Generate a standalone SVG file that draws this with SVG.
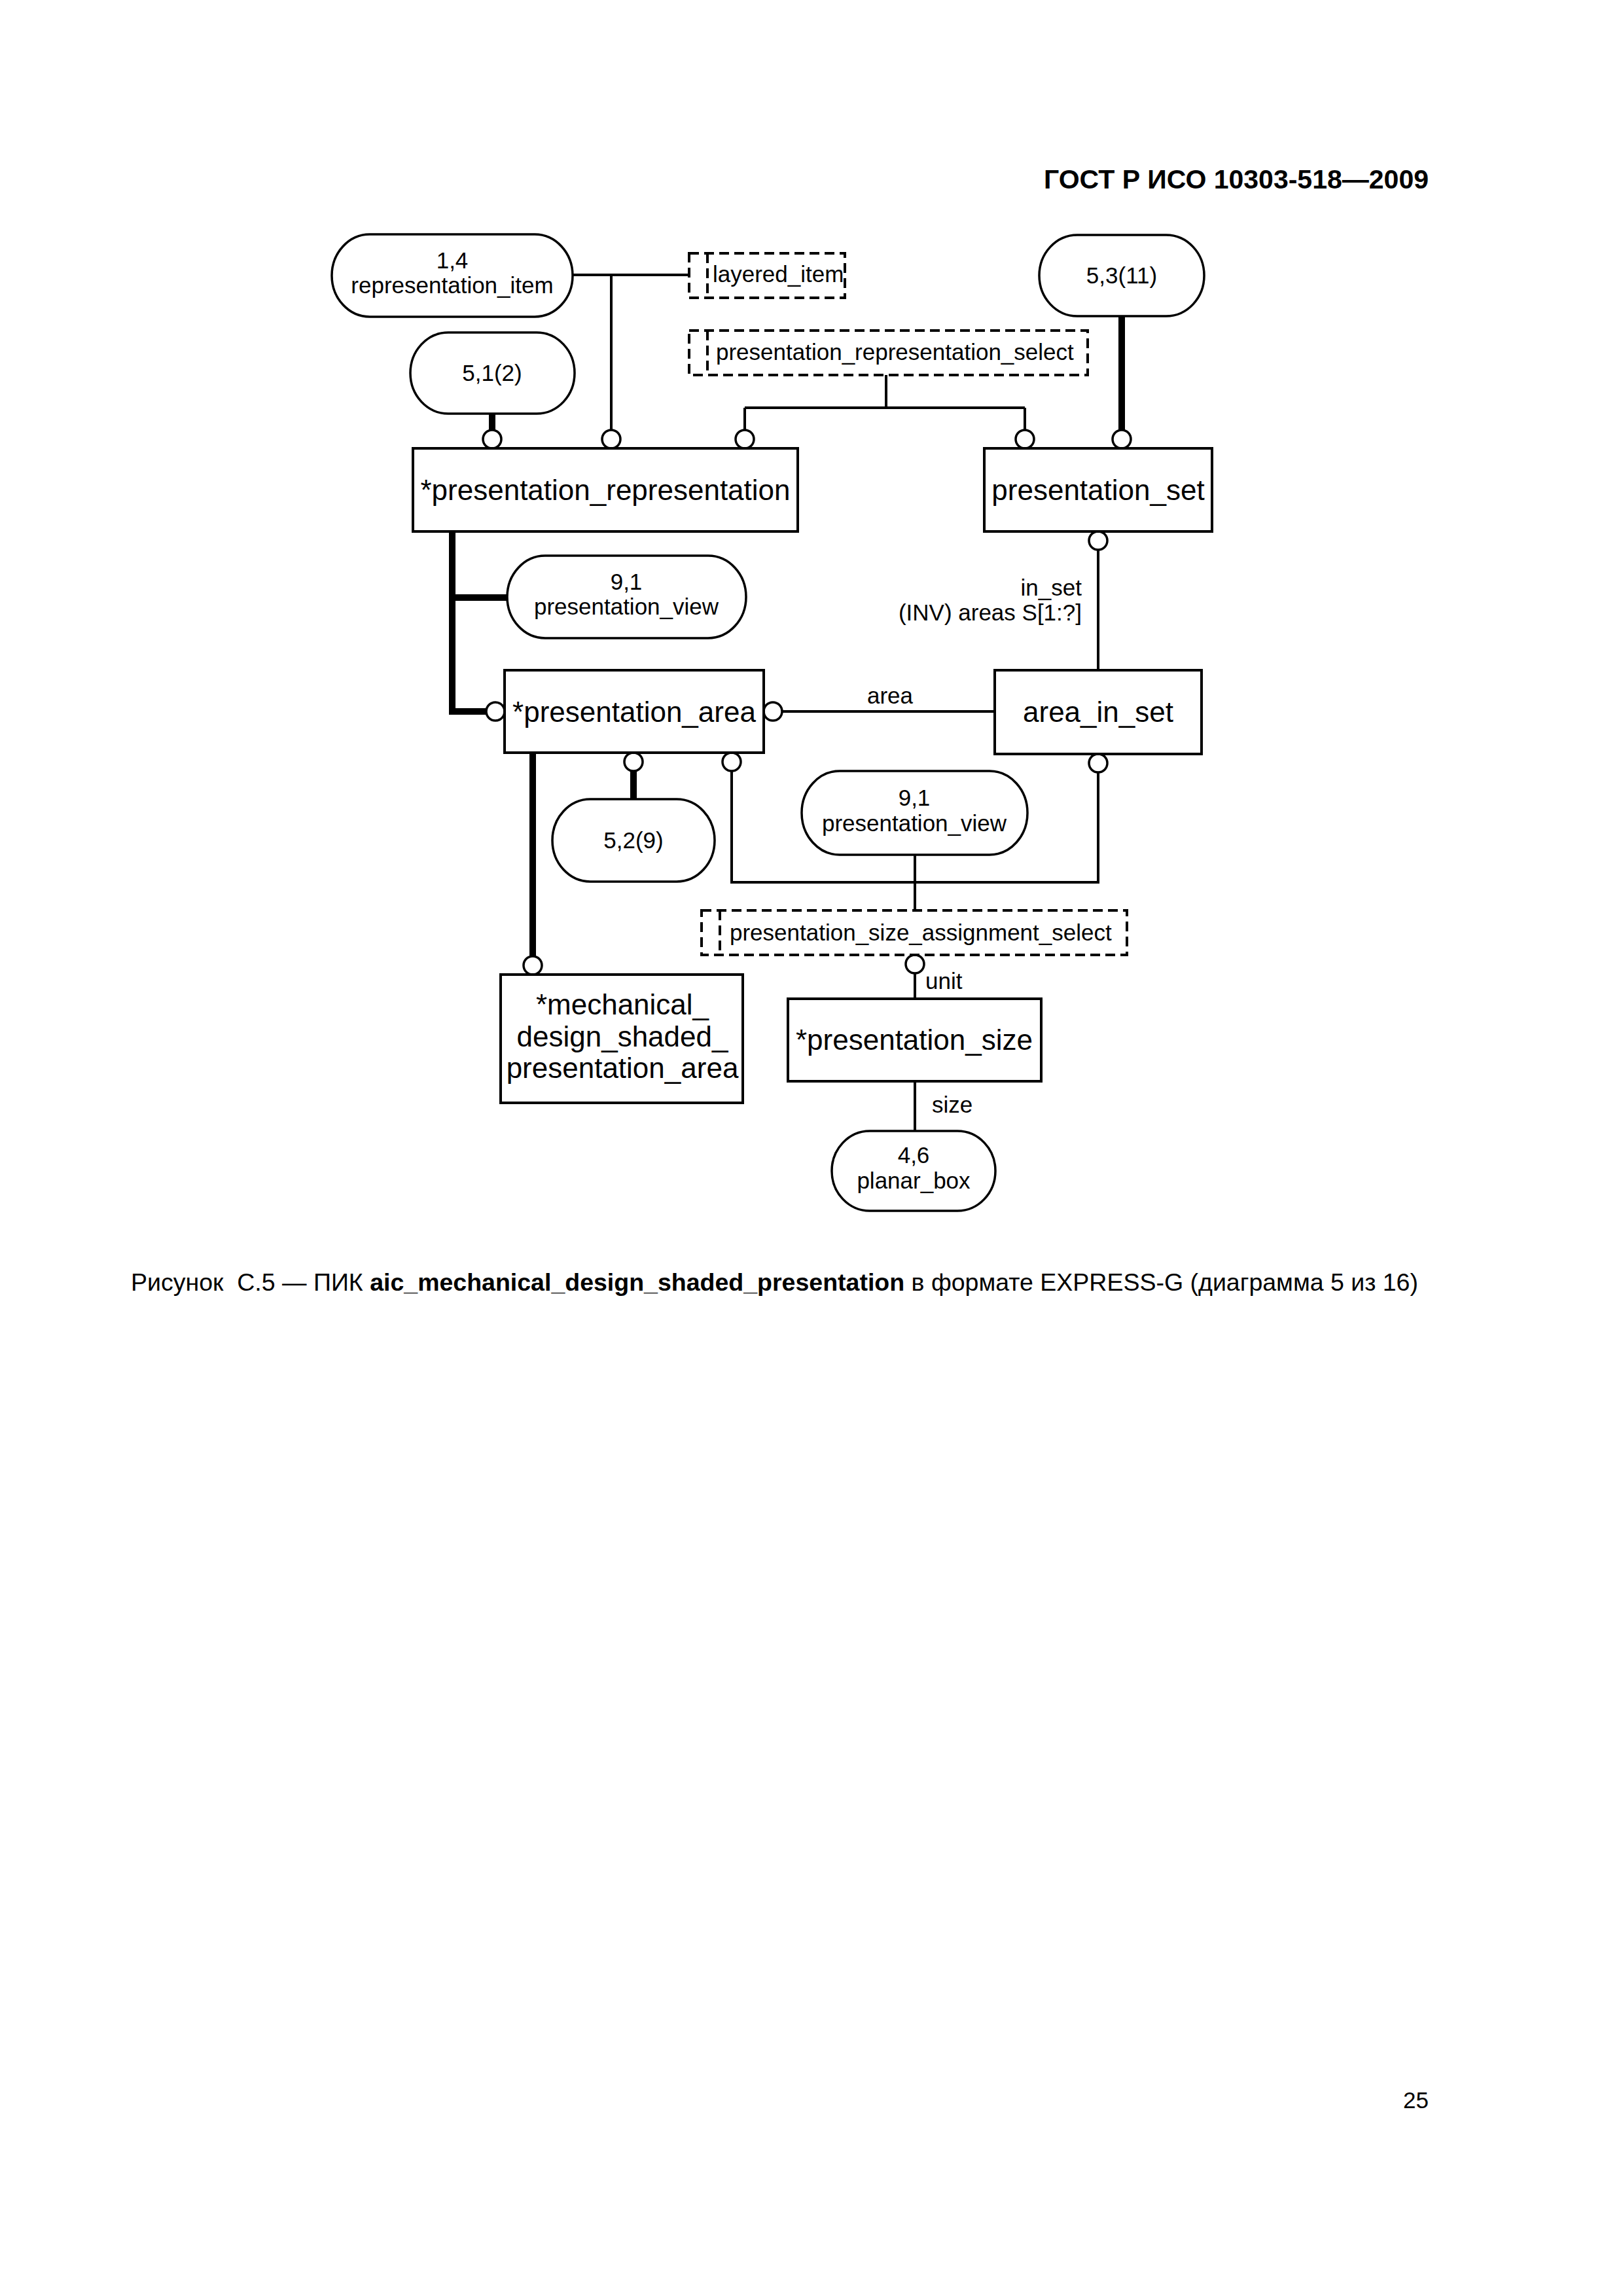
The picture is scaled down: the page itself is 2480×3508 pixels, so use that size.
<svg xmlns="http://www.w3.org/2000/svg" width="2480" height="3508" viewBox="0 0 2480 3508">
<style>
  .bg{fill:#fff}
  .ent{fill:#fff;stroke:#000;stroke-width:4}
  .ref{fill:#fff;stroke:#000;stroke-width:3.5}
  .sel{fill:#fff;stroke:#000;stroke-width:4;stroke-dasharray:15 8}
  .seli{fill:none;stroke:#000;stroke-width:4;stroke-dasharray:15 8}
  .thin{fill:none;stroke:#000;stroke-width:4}
  .thick{fill:none;stroke:#000;stroke-width:10}
  .end{fill:#fff;stroke:#000;stroke-width:3.5}
  .t44{font-family:"Liberation Sans",Arial,sans-serif;font-size:44px;fill:#000}
  .t35{font-family:"Liberation Sans",Arial,sans-serif;font-size:35px;fill:#000}
  .mid{text-anchor:middle}
  .endA{text-anchor:end}
  .hdr{font-family:"Liberation Sans",Arial,sans-serif;font-size:41px;font-weight:bold;fill:#000;text-anchor:end}
  .cap{font-family:"Liberation Sans",Arial,"Noto Sans",sans-serif;font-size:37.5px;fill:#000}
</style>
<rect class="bg" x="0" y="0" width="2480" height="3508"/>

<text class="hdr" x="2183" y="288">ГОСТ Р ИСО 10303-518—2009</text>

<g id="connectors">
  <path class="thin" d="M875 420 H1053"/>
  <path class="thin" d="M934 420 V657"/>
  <path class="thin" d="M1354 573 V623 M1138 623 H1566 M1138 623 V657 M1566 623 V657"/>
  <path class="thin" d="M1678 840 V1024"/>
  <path class="thin" d="M1195 1087 H1520"/>
  <path class="thin" d="M1118 1178 V1348 H1678 V1180"/>
  <path class="thin" d="M1398 1306 V1391"/>
  <path class="thin" d="M1398 1487 V1526"/>
  <path class="thin" d="M1398 1652 V1728"/>
  <path class="thick" d="M752 632 V657"/>
  <path class="thick" d="M1714 483 V657"/>
  <path class="thick" d="M691 812 V1087 H743"/>
  <path class="thick" d="M691 913 H775"/>
  <path class="thick" d="M814 1150 V1461"/>
  <path class="thick" d="M968 1178 V1221"/>
  <circle class="end" cx="752" cy="671" r="14"/>
  <circle class="end" cx="934" cy="671" r="14"/>
  <circle class="end" cx="1138" cy="671" r="14"/>
  <circle class="end" cx="1566" cy="671" r="14"/>
  <circle class="end" cx="1714" cy="671" r="14"/>
  <circle class="end" cx="1678" cy="826" r="14"/>
  <circle class="end" cx="757" cy="1087" r="14"/>
  <circle class="end" cx="1181" cy="1087" r="14"/>
  <circle class="end" cx="968" cy="1164" r="14"/>
  <circle class="end" cx="1118" cy="1164" r="14"/>
  <circle class="end" cx="1678" cy="1166" r="14"/>
  <circle class="end" cx="814" cy="1475" r="14"/>
  <circle class="end" cx="1398" cy="1473" r="14"/>
  <text class="t35 endA" x="1653" y="910">in_set</text>
  <text class="t35 endA" x="1653" y="948">(INV) areas S[1:?]</text>
  <text class="t35 mid" x="1360" y="1075">area</text>
  <text class="t35" x="1414" y="1511">unit</text>
  <text class="t35" x="1424" y="1700">size</text>
</g>

<g id="representation_item">
  <rect class="ref" x="507" y="358" width="368" height="126" rx="58" ry="63"/>
  <text class="t35 mid" x="691" y="410">1,4</text>
  <text class="t35 mid" x="691" y="448">representation_item</text>
</g>

<g id="layered_item">
  <rect class="sel" x="1053" y="387" width="238" height="68"/>
  <line class="seli" x1="1081" y1="387" x2="1081" y2="455"/>
  <text class="t35" x="1089" y="431">layered_item</text>
</g>

<g id="ref_5_1_2">
  <rect class="ref" x="627" y="508" width="251" height="124" rx="58" ry="62"/>
  <text class="t35 mid" x="752" y="582">5,1(2)</text>
</g>

<g id="presentation_representation_select">
  <rect class="sel" x="1053" y="505" width="609" height="68"/>
  <line class="seli" x1="1081" y1="505" x2="1081" y2="573"/>
  <text class="t35" x="1094" y="550">presentation_representation_select</text>
</g>

<g id="ref_5_3_11">
  <rect class="ref" x="1588" y="359" width="252" height="124" rx="58" ry="62"/>
  <text class="t35 mid" x="1714" y="433">5,3(11)</text>
</g>

<g id="presentation_representation">
  <rect class="ent" x="631" y="685" width="588" height="127"/>
  <text class="t44 mid" x="925" y="764">*presentation_representation</text>
</g>

<g id="presentation_set">
  <rect class="ent" x="1504" y="685" width="348" height="127"/>
  <text class="t44 mid" x="1678" y="764">presentation_set</text>
</g>

<g id="presentation_view_1">
  <rect class="ref" x="775" y="849" width="365" height="126" rx="58" ry="63"/>
  <text class="t35 mid" x="957" y="901">9,1</text>
  <text class="t35 mid" x="957" y="939">presentation_view</text>
</g>

<g id="presentation_area">
  <rect class="ent" x="771" y="1024" width="396" height="126"/>
  <text class="t44 mid" x="969" y="1103">*presentation_area</text>
</g>

<g id="area_in_set">
  <rect class="ent" x="1520" y="1024" width="316" height="128"/>
  <text class="t44 mid" x="1678" y="1103">area_in_set</text>
</g>

<g id="ref_5_2_9">
  <rect class="ref" x="844" y="1221" width="248" height="126" rx="58" ry="63"/>
  <text class="t35 mid" x="968" y="1296">5,2(9)</text>
</g>

<g id="presentation_view_2">
  <rect class="ref" x="1225" y="1178" width="345" height="128" rx="58" ry="64"/>
  <text class="t35 mid" x="1397" y="1231">9,1</text>
  <text class="t35 mid" x="1397" y="1270">presentation_view</text>
</g>

<g id="presentation_size_assignment_select">
  <rect class="sel" x="1072" y="1391" width="650" height="68"/>
  <line class="seli" x1="1100" y1="1391" x2="1100" y2="1459"/>
  <text class="t35" x="1115" y="1437">presentation_size_assignment_select</text>
</g>

<g id="mechanical_design_shaded_presentation_area">
  <rect class="ent" x="765" y="1489" width="370" height="196"/>
  <text class="t44 mid" x="951" y="1550">*mechanical_</text>
  <text class="t44 mid" x="951" y="1599">design_shaded_</text>
  <text class="t44 mid" x="951" y="1647">presentation_area</text>
</g>

<g id="presentation_size">
  <rect class="ent" x="1204" y="1526" width="387" height="126"/>
  <text class="t44 mid" x="1397" y="1604">*presentation_size</text>
</g>

<g id="planar_box">
  <rect class="ref" x="1271" y="1728" width="250" height="122" rx="58" ry="61"/>
  <text class="t35 mid" x="1396" y="1777">4,6</text>
  <text class="t35 mid" x="1396" y="1816">planar_box</text>
</g>

<text class="cap" x="200" y="1972">Рисунок&#160; C.5 — ПИК <tspan font-weight="bold">aic_mechanical_design_shaded_presentation</tspan> в формате EXPRESS-G (диаграмма 5 из 16)</text>

<text class="t35 endA" x="2183" y="3221" font-size="37px">25</text>
</svg>
